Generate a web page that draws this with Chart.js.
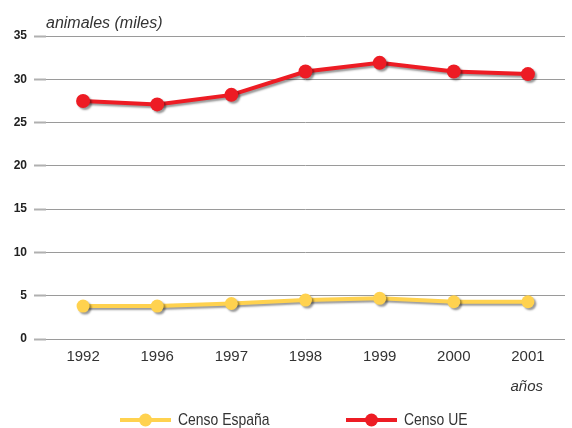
<!DOCTYPE html>
<html>
<head>
<meta charset="utf-8">
<script src="https://cdn.jsdelivr.net/npm/chart.js@4"></script>
<style>
  html, body { margin: 0; padding: 0; background: #fff; }
  #wrap { width: 572px; height: 428px; }
</style>
</head>
<body>
<div id="wrap"><canvas id="chart"></canvas></div>
<script>
const years = ["1992", "1996", "1997", "1998", "1999", "2000", "2001"];
const censoEspana = [3.8, 3.8, 4.1, 4.5, 4.7, 4.3, 4.3];
const censoUE = [27.5, 27.1, 28.2, 30.9, 31.9, 30.9, 30.6];
const yMin = 0;
const yMax = 35;
const yStep = 5;
const seriesNames = ["Censo España", "Censo UE"];
const seriesColors = ["#FFD24F", "#ED1C24"];
const yTitle = "animales (miles)";
const xTitle = "años";

// soft grey drop shadow under lines and points
const lineShadow = {
  id: "lineShadow",
  beforeDatasetDraw(chart) {
    const ctx = chart.ctx;
    ctx.save();
    ctx.shadowColor = "rgba(0,0,0,0.4)";
    ctx.shadowOffsetX = 2;
    ctx.shadowOffsetY = 2;
    ctx.shadowBlur = 2;
  },
  afterDatasetDraw(chart) {
    chart.ctx.restore();
  },
};

// axis titles and the line+dot legend under the chart
const extraLabels = {
  id: "extraLabels",
  afterDraw(chart) {
    const ctx = chart.ctx;
    const area = chart.chartArea;
    ctx.save();
    ctx.fillStyle = "#333";
    ctx.font = "italic 16px Arial";
    ctx.textAlign = "left";
    ctx.textBaseline = "alphabetic";
    ctx.fillText(yTitle, area.left, 28);
    ctx.font = "italic 15px Arial";
    ctx.textAlign = "right";
    ctx.fillText(xTitle, 543, 391);

    const starts = [120, 346];
    const y = 420;
    chart.data.datasets.forEach((ds, i) => {
      const x = starts[i];
      ctx.strokeStyle = ds.borderColor;
      ctx.lineWidth = 4;
      ctx.beginPath();
      ctx.moveTo(x, y);
      ctx.lineTo(x + 51, y);
      ctx.stroke();
      ctx.fillStyle = ds.borderColor;
      ctx.beginPath();
      ctx.arc(x + 25.5, y, 6.5, 0, Math.PI * 2);
      ctx.fill();
      // condensed look of the original legend text
      ctx.save();
      ctx.translate(x + 58, y);
      ctx.scale(0.82, 1);
      ctx.fillStyle = "#333";
      ctx.font = "17px Arial";
      ctx.textAlign = "left";
      ctx.textBaseline = "middle";
      ctx.fillText(ds.label, 0, 0);
      ctx.restore();
    });
    ctx.restore();
  },
};

new Chart(document.getElementById("chart"), {
  type: "line",
  data: {
    labels: years,
    datasets: [
      {
        label: seriesNames[0],
        data: censoEspana,
        borderColor: seriesColors[0],
        backgroundColor: seriesColors[0],
        borderWidth: 4,
        pointRadius: 6.5,
        pointBorderWidth: 0,
        pointBackgroundColor: seriesColors[0],
        tension: 0,
        clip: false,
      },
      {
        label: seriesNames[1],
        data: censoUE,
        borderColor: seriesColors[1],
        backgroundColor: seriesColors[1],
        borderWidth: 4,
        pointRadius: 7,
        pointBorderWidth: 0,
        pointBackgroundColor: seriesColors[1],
        tension: 0,
        clip: false,
      },
    ],
  },
  options: {
    responsive: true,
    maintainAspectRatio: false,
    animation: false,
    layout: { padding: { top: 36, right: 0, bottom: 53, left: 0 } },
    plugins: {
      legend: { display: false },
      tooltip: { enabled: false },
    },
    scales: {
      x: {
        offset: true,
        grid: { display: false, drawTicks: false },
        border: { display: false },
        ticks: {
          padding: 9,
          color: "#333",
          font: { family: "Arial", size: 15 },
        },
      },
      y: {
        min: yMin,
        max: yMax,
        afterFit: (scale) => {
          scale.width = 46;
        },
        grid: {
          color: "#9a9a9a",
          lineWidth: 1,
          tickLength: 12,
          tickColor: "#b0b0b0",
          tickWidth: 2,
        },
        border: { display: false },
        ticks: {
          stepSize: yStep,
          padding: 7,
          color: "#222",
          font: { family: "Arial", size: 12, weight: "bold" },
        },
      },
    },
  },
  plugins: [lineShadow, extraLabels],
});
</script>
</body>
</html>
